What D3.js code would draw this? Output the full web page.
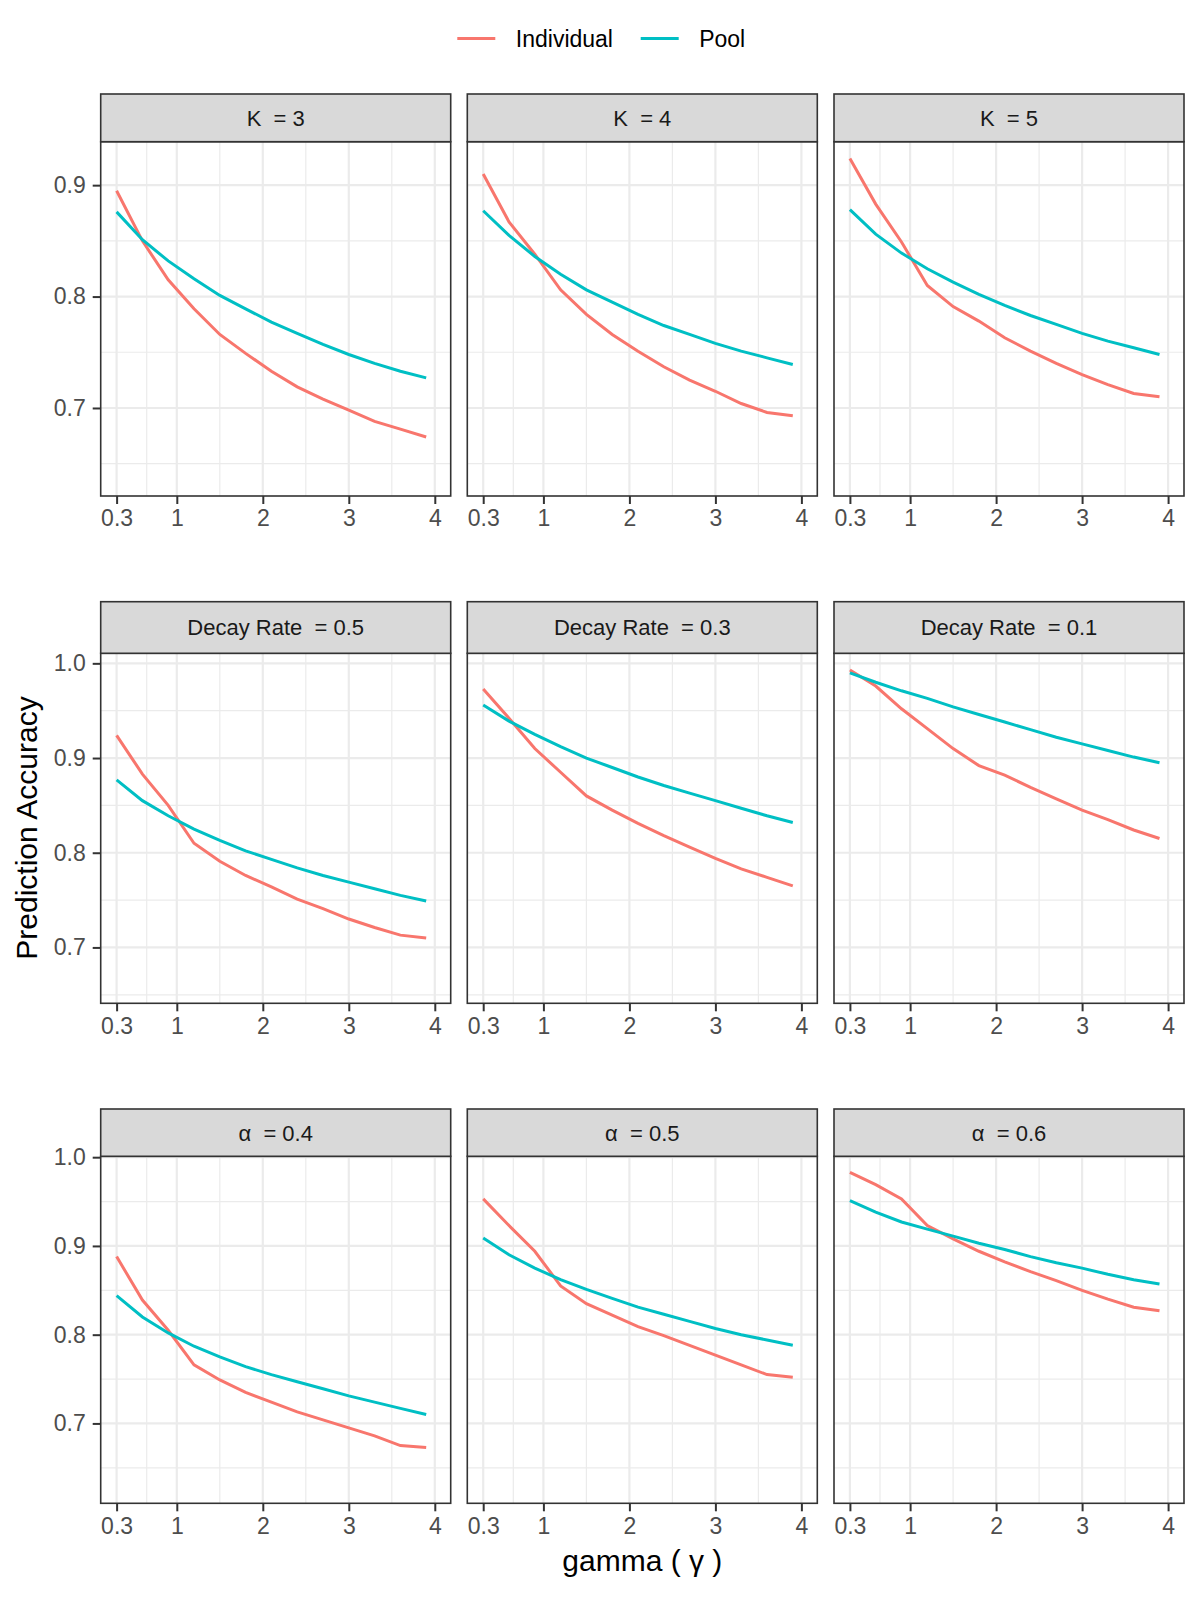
<!DOCTYPE html>
<html>
<head>
<meta charset="utf-8">
<script src="https://cdn.jsdelivr.net/npm/d3@7"></script>
<style>
  body { margin: 0; background: #fff; }
  text { font-family: "Liberation Sans", Arial, Helvetica, sans-serif; }
</style>
</head>
<body>
<svg id="chart" width="1200" height="1600"></svg>
<script>
// gamma values on the x axis
const gamma = [0.3, 0.6, 0.9, 1.2, 1.5, 1.8, 2.1, 2.4, 2.7, 3.0, 3.3, 3.6, 3.9];
const xTicks = [0.3, 1, 2, 3, 4];
const seriesNames = ["Individual", "Pool"];

// row 1: K
const kLabels = ["3", "4", "5"];
const individualK = [
  [0.895, 0.850, 0.815, 0.789, 0.766, 0.749, 0.733, 0.719, 0.708, 0.698, 0.688, 0.681, 0.674],
  [0.910, 0.867, 0.838, 0.806, 0.784, 0.766, 0.751, 0.737, 0.725, 0.715, 0.704, 0.696, 0.693],
  [0.924, 0.883, 0.849, 0.810, 0.791, 0.778, 0.763, 0.751, 0.740, 0.730, 0.721, 0.713, 0.710]
];
const poolK = [
  [0.876, 0.851, 0.832, 0.816, 0.801, 0.789, 0.777, 0.767, 0.757, 0.748, 0.740, 0.733, 0.727],
  [0.877, 0.855, 0.836, 0.820, 0.806, 0.795, 0.784, 0.774, 0.766, 0.758, 0.751, 0.745, 0.739],
  [0.878, 0.856, 0.839, 0.825, 0.813, 0.802, 0.792, 0.783, 0.775, 0.767, 0.760, 0.754, 0.748]
];

// row 2: decay rate
const decayLabels = ["0.5", "0.3", "0.1"];
const individualDecay = [
  [0.924, 0.883, 0.850, 0.810, 0.791, 0.776, 0.764, 0.751, 0.741, 0.730, 0.721, 0.713, 0.710],
  [0.973, 0.942, 0.910, 0.885, 0.860, 0.845, 0.831, 0.818, 0.806, 0.794, 0.783, 0.774, 0.765],
  [0.993, 0.976, 0.952, 0.931, 0.910, 0.892, 0.882, 0.869, 0.857, 0.845, 0.835, 0.824, 0.815]
];
const poolDecay = [
  [0.877, 0.855, 0.839, 0.825, 0.813, 0.802, 0.793, 0.784, 0.776, 0.769, 0.762, 0.755, 0.749],
  [0.956, 0.939, 0.925, 0.912, 0.900, 0.890, 0.880, 0.871, 0.863, 0.855, 0.847, 0.839, 0.832],
  [0.990, 0.980, 0.971, 0.963, 0.954, 0.946, 0.938, 0.930, 0.922, 0.915, 0.908, 0.901, 0.895]
];

// row 3: alpha
const alphaLabels = ["0.4", "0.5", "0.6"];
const individualAlpha = [
  [0.888, 0.839, 0.805, 0.766, 0.749, 0.735, 0.724, 0.713, 0.704, 0.695, 0.686, 0.675, 0.673],
  [0.953, 0.923, 0.894, 0.855, 0.835, 0.822, 0.809, 0.799, 0.788, 0.777, 0.766, 0.755, 0.752],
  [0.983, 0.969, 0.953, 0.923, 0.908, 0.894, 0.882, 0.871, 0.861, 0.850, 0.840, 0.831, 0.827]
];
const poolAlpha = [
  [0.844, 0.820, 0.802, 0.787, 0.775, 0.764, 0.755, 0.747, 0.739, 0.731, 0.724, 0.717, 0.710],
  [0.909, 0.890, 0.875, 0.862, 0.851, 0.841, 0.831, 0.823, 0.815, 0.807, 0.800, 0.794, 0.788],
  [0.951, 0.938, 0.927, 0.919, 0.911, 0.903, 0.896, 0.888, 0.881, 0.875, 0.868, 0.862, 0.857]
];

const colors = ["#F8766D", "#00BFC4"];
const svg = d3.select("#chart");

// layout of the facet grid
const colLeft = [100.7, 467.3, 834];
const panelW = 350;
const rows = [
  {stripTop: 94, stripBot: 141.7, bottom: 496, domain: [0.621, 0.939], prefix: "K", labels: kLabels, ind: individualK, pool: poolK},
  {stripTop: 601.7, stripBot: 653.3, bottom: 1003.3, domain: [0.641, 1.0106], prefix: "Decay Rate", labels: decayLabels, ind: individualDecay, pool: poolDecay},
  {stripTop: 1109, stripBot: 1156.3, bottom: 1503.3, domain: [0.610, 1.001], prefix: "\u03B1", labels: alphaLabels, ind: individualAlpha, pool: poolAlpha}
];

const fmtY = d3.format(".1f");

rows.forEach(row => {
  const y = d3.scaleLinear().domain(row.domain).range([row.bottom, row.stripBot]);
  const majorY = d3.range(0.7, 1.001, 0.1).filter(v => v >= row.domain[0] && v <= row.domain[1]);
  const minorY = d3.range(0.65, 1.0, 0.1).filter(v => v >= row.domain[0] && v <= row.domain[1]);

  colLeft.forEach((left, ci) => {
    // x domain 0.3..4 with ggplot's 5% expansion
    const x = d3.scaleLinear().domain([0.3 - 0.185, 4 + 0.185]).range([left, left + panelW]);
    const minorX = [0.65, 1.5, 2.5, 3.5];
    const g = svg.append("g");

    g.append("rect")
      .attr("x", left).attr("y", row.stripBot)
      .attr("width", panelW).attr("height", row.bottom - row.stripBot)
      .attr("fill", "#fff");

    // grid
    g.selectAll(".minx").data(minorX).enter().append("line")
      .attr("x1", d => x(d)).attr("x2", d => x(d))
      .attr("y1", row.stripBot).attr("y2", row.bottom)
      .attr("stroke", "#EBEBEB").attr("stroke-width", 1.2);
    g.selectAll(".miny").data(minorY).enter().append("line")
      .attr("x1", left).attr("x2", left + panelW)
      .attr("y1", d => y(d)).attr("y2", d => y(d))
      .attr("stroke", "#EBEBEB").attr("stroke-width", 1.2);
    g.selectAll(".majx").data(xTicks).enter().append("line")
      .attr("x1", d => x(d)).attr("x2", d => x(d))
      .attr("y1", row.stripBot).attr("y2", row.bottom)
      .attr("stroke", "#EBEBEB").attr("stroke-width", 2.2);
    g.selectAll(".majy").data(majorY).enter().append("line")
      .attr("x1", left).attr("x2", left + panelW)
      .attr("y1", d => y(d)).attr("y2", d => y(d))
      .attr("stroke", "#EBEBEB").attr("stroke-width", 2.2);

    // lines
    const line = d3.line().x((d, i) => x(gamma[i])).y(d => y(d));
    [row.ind[ci], row.pool[ci]].forEach((vals, si) => {
      g.append("path")
        .datum(vals)
        .attr("d", line)
        .attr("fill", "none")
        .attr("stroke", colors[si])
        .attr("stroke-width", 3);
    });

    // panel border
    g.append("rect")
      .attr("x", left).attr("y", row.stripBot)
      .attr("width", panelW).attr("height", row.bottom - row.stripBot)
      .attr("fill", "none").attr("stroke", "#333333").attr("stroke-width", 1.6);

    // strip
    g.append("rect")
      .attr("x", left).attr("y", row.stripTop)
      .attr("width", panelW).attr("height", row.stripBot - row.stripTop)
      .attr("fill", "#D9D9D9").attr("stroke", "#333333").attr("stroke-width", 1.6);
    g.append("text")
      .attr("x", left + panelW / 2)
      .attr("y", (row.stripTop + row.stripBot) / 2)
      .attr("dy", "0.36em")
      .attr("text-anchor", "middle")
      .attr("font-size", 22)
      .attr("fill", "#1A1A1A")
      .style("white-space", "pre")
      .text(row.prefix + "  = " + row.labels[ci]);

    // x axis
    const xAxis = d3.axisBottom(x).tickValues(xTicks)
      .tickFormat(d => d === 0.3 ? "0.3" : d3.format("d")(d))
      .tickSize(8).tickSizeOuter(0).tickPadding(6);
    const ax = g.append("g").attr("transform", `translate(0,${row.bottom})`).call(xAxis);
    ax.select(".domain").remove();
    ax.selectAll(".tick line").attr("stroke", "#333333").attr("stroke-width", 2);
    ax.selectAll(".tick text").attr("font-size", 23).attr("fill", "#4D4D4D")
      .attr("font-family", "Liberation Sans, Arial, sans-serif");

    // y axis on first column only
    if (ci === 0) {
      const yAxis = d3.axisLeft(y).tickValues(majorY).tickFormat(fmtY)
        .tickSize(8).tickSizeOuter(0).tickPadding(7);
      const ay = g.append("g").attr("transform", `translate(${left},0)`).call(yAxis);
      ay.select(".domain").remove();
      ay.selectAll(".tick line").attr("stroke", "#333333").attr("stroke-width", 2);
      ay.selectAll(".tick text").attr("font-size", 23).attr("fill", "#4D4D4D")
        .attr("font-family", "Liberation Sans, Arial, sans-serif");
    }
  });
});

// axis titles
svg.append("text")
  .attr("x", (colLeft[0] + colLeft[2] + panelW) / 2)
  .attr("y", 1571)
  .attr("text-anchor", "middle")
  .attr("font-size", 30)
  .attr("fill", "#000")
  .text("gamma ( \u03B3 )");

svg.append("text")
  .attr("transform", "translate(37,828) rotate(-90)")
  .attr("text-anchor", "middle")
  .attr("font-size", 30)
  .attr("fill", "#000")
  .text("Prediction Accuracy");

// legend
const legendX = [457.3, 640.7];
const legend = svg.append("g");
seriesNames.forEach((name, i) => {
  legend.append("line")
    .attr("x1", legendX[i]).attr("x2", legendX[i] + 38)
    .attr("y1", 38.5).attr("y2", 38.5)
    .attr("stroke", colors[i]).attr("stroke-width", 3);
  legend.append("text")
    .attr("x", legendX[i] + 58.5)
    .attr("y", 38.5)
    .attr("dy", "0.36em")
    .attr("font-size", 23)
    .attr("fill", "#000")
    .text(name);
});
</script>
</body>
</html>
